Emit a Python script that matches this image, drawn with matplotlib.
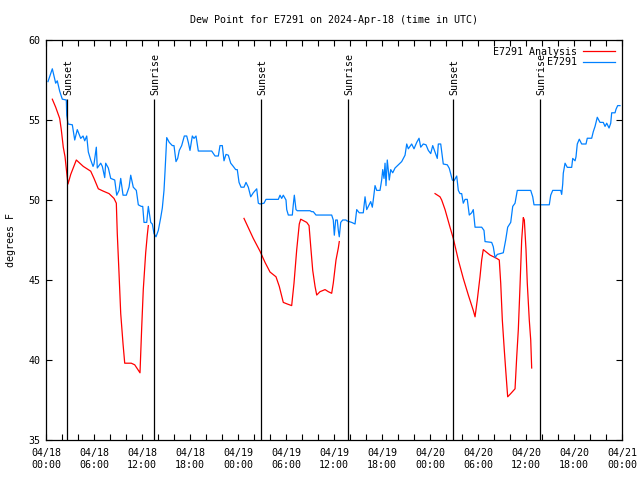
import numpy as np
import matplotlib
matplotlib.use('Agg')
import matplotlib.pyplot as plt

# hours since 04/18 00:00 UTC
obs_hours = [0.25, 0.79, 1.21, 1.41, 1.71, 2.04, 2.54, 2.59, 2.75, 3.29, 3.59, 3.91, 4.34, 4.63, 4.84,
             5.09, 5.29, 5.59, 5.88, 6.0, 6.29, 6.41, 6.84, 7.04, 7.34, 7.46, 7.79, 8.09, 8.59, 8.84,
             9.13, 9.34, 9.63, 10.04, 10.38, 10.59, 10.91, 11.29, 11.54, 11.91, 12.09, 12.25, 12.59,
             12.79, 13.09, 13.29, 13.5, 13.75, 14.04, 14.34, 14.54, 14.75, 14.88, 15.09, 15.41, 15.79,
             16.0, 16.25, 16.46, 16.66, 16.96, 17.29, 17.59, 17.79, 18.0, 18.29, 18.5, 18.75, 19.04,
             20.71, 21.13, 21.54, 21.75, 22.04, 22.25, 22.5, 22.79, 23.09, 23.41, 23.71, 23.91, 24.13,
             24.38, 24.75, 25.0, 25.29, 25.59, 25.91, 26.34, 26.54, 26.75, 27.25, 27.5, 29.04, 29.25,
             29.46, 29.66, 30.0, 30.09, 30.29, 30.79, 30.91, 31.04, 31.25, 31.41, 33.0, 33.21, 33.41,
             33.75, 35.71, 35.91, 36.04, 36.21, 36.41, 36.54, 36.66, 36.84, 37.09, 37.5, 37.59, 38.21,
             38.63, 38.84, 39.16, 39.66, 39.88, 40.09, 40.29, 40.59, 40.79, 40.91, 41.13, 41.34, 41.75,
             41.96, 42.09, 42.25, 42.38, 42.5, 42.66, 42.91, 43.09, 43.34, 43.63, 44.04, 44.46, 44.88,
             45.09, 45.29, 45.71, 46.0, 46.34, 46.63, 46.84, 47.16, 47.5, 47.79, 48.09, 48.34, 48.63,
             48.91, 49.04, 49.34, 49.66, 50.16, 50.41, 50.79, 51.0, 51.34, 51.54, 51.75, 51.96, 52.16,
             52.38, 52.66, 52.91, 53.21, 53.41, 53.63, 54.46, 54.75, 54.88, 55.71, 55.91, 56.13, 56.41,
             57.16, 57.46, 57.71, 58.09, 58.34, 58.63, 58.91, 60.59, 60.84, 61.0, 62.91, 63.09, 63.34,
             64.34, 64.46, 64.59, 64.66, 64.88, 65.16, 65.71, 65.84, 66.13, 66.25, 66.41, 66.66, 66.96,
             67.5, 67.66, 68.21, 68.41, 68.63, 68.91, 69.25, 69.66, 69.88, 70.09, 70.38, 70.59, 70.71,
             71.13, 71.25, 71.46, 71.75]
obs_dewpt = [57.4, 58.2, 57.3, 57.45, 56.8, 56.3, 56.25, 55.3, 54.75, 54.7, 53.75, 54.4, 53.85, 54.0, 53.7,
             54.0, 53.0, 52.5, 52.1, 52.25, 53.3, 52.0, 52.3, 52.1, 51.4, 52.3, 52.0, 51.35, 51.25, 50.3,
             50.6, 51.35, 50.3, 50.3, 50.8, 51.55, 50.8, 50.6, 49.7, 49.6, 49.6, 48.6, 48.6,
             49.6, 48.6, 48.5, 47.9, 47.7, 48.1, 48.9, 49.5, 50.6, 51.8, 53.9, 53.6, 53.4,
             53.4, 52.4, 52.6, 53.1, 53.4, 54.0, 54.0, 53.6, 53.1, 54.0, 53.85, 54.0, 53.06,
             53.06, 52.75, 52.75, 53.4, 53.4, 52.45, 52.85, 52.8, 52.3, 52.1, 51.9, 51.9, 51.1,
             50.8, 50.8, 51.1, 50.8, 50.2, 50.45, 50.7, 49.8, 49.75, 49.8, 50.04, 50.04, 50.3,
             50.1, 50.3, 50.0, 49.4, 49.06, 49.06, 49.7, 50.3, 49.4, 49.33, 49.33, 49.27, 49.27,
             49.06, 49.06, 48.75, 47.8, 48.75, 48.75, 48.1, 47.7, 48.6, 48.75, 48.75, 48.7, 48.6,
             48.5, 49.4, 49.2, 49.2, 50.2, 49.4, 49.6, 49.9, 49.55, 50.0, 50.9, 50.6, 50.6,
             51.25, 51.9, 51.35, 52.3, 50.9, 52.5, 51.25, 51.9, 51.7, 52.0, 52.2, 52.4, 52.8,
             53.5, 53.2, 53.5, 53.2, 53.6, 53.86, 53.3, 53.5, 53.45, 53.1, 52.9, 53.4, 53.0,
             52.6, 53.5, 53.5, 52.25, 52.2, 51.98, 51.25, 51.2, 51.5, 50.6, 50.4, 50.4, 49.8,
             50.04, 50.04, 49.06, 49.2, 49.4, 48.3, 48.3, 48.1, 47.4, 47.35, 47.08, 46.4, 46.6,
             46.7, 47.5, 48.3, 48.6, 49.6, 49.8, 50.6, 50.6, 50.2, 49.7, 49.7, 50.3, 50.6,
             50.6, 50.35, 51.0, 51.67, 52.3, 52.04, 52.04, 52.6, 52.45, 52.7, 53.5, 53.8, 53.5,
             53.5, 53.86, 53.86, 54.27, 54.6, 55.17, 54.85, 54.85, 54.6, 54.8, 54.5, 54.8, 55.45,
             55.45, 55.67, 55.9, 55.9]

# analysis series, NaN marks missing data
ana_hours = [0.79, 1.21, 1.71, 1.91, 2.16, 2.38, 2.59, 2.75, 3.09, 3.79, 4.66, 5.59, 6.0, 6.54, 7.13,
             7.88, 8.5, 8.79, 8.91, 9.13, 9.34, 9.63, 9.84, 10.66, 11.09, 11.75, 11.96, 12.16, 12.46,
             12.66, 12.79, 18.0,
             24.75, 25.91, 26.75, 27.38, 28.0, 28.75, 29.16, 29.66, 30.16, 30.71, 31.0, 31.34, 31.66,
             31.84, 32.59, 32.88, 33.09, 33.34, 33.63, 33.84, 34.25, 34.88, 35.29, 35.71, 35.91, 36.25,
             36.54, 36.66, 42.0,
             48.63, 49.25, 49.46, 49.88, 50.5, 50.91, 51.54, 52.16, 52.79, 53.41, 53.63, 53.91, 54.25,
             54.46, 54.66, 55.5, 56.34, 56.66, 56.84, 57.04, 57.29, 57.46, 57.71, 58.09, 58.63, 58.84,
             59.04, 59.25, 59.46, 59.66, 59.79, 60.0, 60.16, 60.41, 60.59, 60.71]
ana_dewpt = [56.3, 55.8, 55.1, 54.4, 53.3, 52.7, 51.7, 51.0, 51.6, 52.5, 52.1, 51.8, 51.35, 50.7, 50.56,
             50.4, 50.1, 49.8, 47.9, 45.4, 42.9, 41.0, 39.8, 39.8, 39.7, 39.2, 42.0, 44.4, 46.7,
             47.8, 48.4, np.nan,
             48.85, 47.6, 46.8, 46.1, 45.5, 45.2, 44.6, 43.6, 43.5, 43.4, 44.8, 46.9, 48.5,
             48.8, 48.6, 48.4, 47.1, 45.6, 44.6, 44.06, 44.27, 44.4, 44.27, 44.17, 44.8, 46.25,
             47.0, 47.4, np.nan,
             50.4, 50.2, 50.0, 49.4, 48.3, 47.6, 46.25, 45.1, 44.06, 43.1, 42.7, 43.75, 45.2,
             46.25, 46.9, 46.56, 46.35, 46.25, 44.8, 42.5, 40.6, 39.4, 37.7, 37.9, 38.2, 40.2,
             41.9, 44.6, 47.5, 48.9, 48.75, 46.9, 44.8, 42.5, 41.25, 39.5]

sun_hours = [2.66, 13.54, 26.88, 37.75, 50.88, 61.75]
sun_labels = ['Sunset', 'Sunrise', 'Sunset', 'Sunrise', 'Sunset', 'Sunrise']

tick_hours = list(range(0, 73, 6))
tick_labels = ['04/18\n00:00', '04/18\n06:00', '04/18\n12:00', '04/18\n18:00',
               '04/19\n00:00', '04/19\n06:00', '04/19\n12:00', '04/19\n18:00',
               '04/20\n00:00', '04/20\n06:00', '04/20\n12:00', '04/20\n18:00',
               '04/21\n00:00']

plt.rcParams['font.family'] = 'DejaVu Sans Mono'
plt.rcParams['font.size'] = 7.2

fig = plt.figure(figsize=(6.4, 4.8), dpi=100)
ax = fig.add_axes([46 / 640, 40 / 480, 576 / 640, 400 / 480])

ax.plot(ana_hours, ana_dewpt, color='#ff0000', lw=0.9, label='E7291 Analysis')
ax.plot(obs_hours, obs_dewpt, color='#0080ff', lw=0.9, label='         E7291')

for h, lab in zip(sun_hours, sun_labels):
    ax.vlines(h, 35, 56.3, color='black', lw=0.9)
    ax.annotate(lab, (h, 56.3), xytext=(1.5, 4), textcoords='offset pixels',
                rotation=90, ha='center', va='bottom')

ax.set_xlim(0, 72)
ax.set_ylim(35, 60)
ax.set_xticks(tick_hours)
ax.set_xticklabels(tick_labels)
ax.set_xticks(range(0, 73, 2), minor=True)
ax.set_yticks(range(35, 61, 5))
ax.tick_params(which='both', direction='in', top=True, right=True, length=4, width=0.8)
ax.tick_params(axis='x', which='both', pad=6)
ax.tick_params(axis='y', which='both', pad=4)
for s in ax.spines.values():
    s.set_linewidth(0.9)

ax.set_ylabel('degrees F', labelpad=9)
ax.set_title('Dew Point for E7291 on 2024-Apr-18 (time in UTC)', fontsize=7.2, pad=12)
ax.legend(loc='upper right', frameon=False, markerfirst=False, handlelength=3.2,
          borderaxespad=0.3, labelspacing=0.05, handletextpad=0.6)

fig.savefig('out.png', dpi=100)
